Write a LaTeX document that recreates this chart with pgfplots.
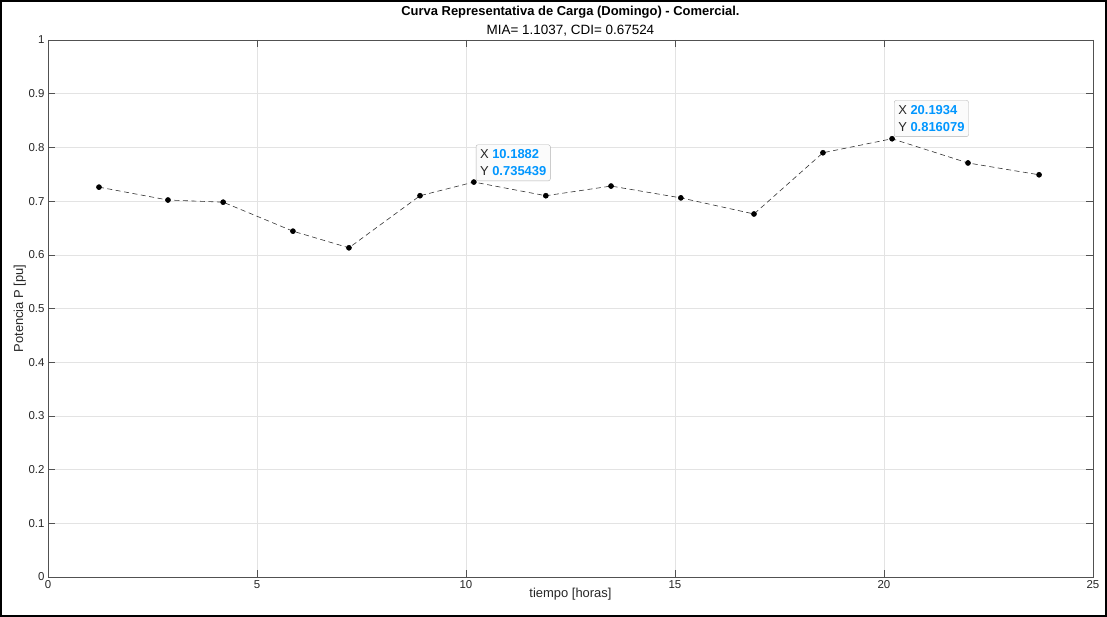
\documentclass[border=0pt]{standalone}
\usepackage{pgfplots}
\pgfplotsset{compat=1.18}
\usepackage{fontspec}
\setmainfont{Liberation Sans}
\definecolor{tipblue}{RGB}{0,150,255}
\definecolor{axgray}{RGB}{38,38,38}
\begin{document}
\begin{tikzpicture}[x=1bp,y=1bp]
\begin{axis}[
  at={(0,0)}, anchor=south west,
  scale only axis, width=1045bp, height=537bp,
  xmin=0, xmax=25, ymin=0, ymax=1,
  xtick={0,5,...,25},
  ytick={0,0.1,...,1.0},
  yticklabels={0,0.1,0.2,0.3,0.4,0.5,0.6,0.7,0.8,0.9,1},
  /pgf/number format/assume math mode=true,
  tick label style={font=\fontsize{11.5}{13}\selectfont, text=axgray},
  grid=major,
  major grid style={gray!22, line width=0.5bp},
  tick align=inside,
  major tick length=7bp,
  tick style={axgray!80, line width=0.5bp},
  axis line style={axgray!80, line width=0.6bp},
  xtick pos=both, ytick pos=both,
  xlabel={tiempo [horas]},
  ylabel={Potencia P [pu]},
  label style={font=\fontsize{13}{15}\selectfont, text=axgray},
  xlabel style={yshift=7bp},
  ylabel style={yshift=-4bp},
  title={\textbf{Curva Representativa de Carga (Domingo) - Comercial.}\\{\fontsize{13.5}{15}\selectfont MIA= 1.1037, CDI= 0.67524}},
  title style={align=center, font=\fontsize{13}{19}\selectfont, yshift=-6bp},
]
\addplot[black!80, dashed, dash pattern=on 5bp off 3.5bp, line width=0.6bp,
  mark=*, mark size=2.5bp, mark options={solid, fill=black, draw=black}]
coordinates {
(1.22,0.726) (2.87,0.702) (4.19,0.698) (5.86,0.644) (7.20,0.613)
(8.90,0.710) (10.1882,0.735439) (11.91,0.710) (13.47,0.728) (15.14,0.706)
(16.89,0.676) (18.54,0.790) (20.1934,0.816079) (22.01,0.771) (23.71,0.749)
};
\node[anchor=south west, xshift=2bp, yshift=1bp, draw=gray!60, fill=gray!3, rounded corners=2bp,
  align=left, inner xsep=4bp, inner ysep=5bp, font=\fontsize{13}{17}\selectfont, text=axgray]
  at (axis cs:10.1882,0.735439) {X \textcolor{tipblue}{\textbf{10.1882}}\\Y \textcolor{tipblue}{\textbf{0.735439}}};
\node[anchor=south west, xshift=2bp, yshift=2bp, draw=gray!60, fill=gray!3, rounded corners=2bp,
  align=left, inner xsep=4bp, inner ysep=5bp, font=\fontsize{13}{17}\selectfont, text=axgray]
  at (axis cs:20.1934,0.816079) {X \textcolor{tipblue}{\textbf{20.1934}}\\Y \textcolor{tipblue}{\textbf{0.816079}}};
\end{axis}
\draw[line width=2bp] (-47bp,-39bp) rectangle (1058bp,576bp);
\end{tikzpicture}
\end{document}
